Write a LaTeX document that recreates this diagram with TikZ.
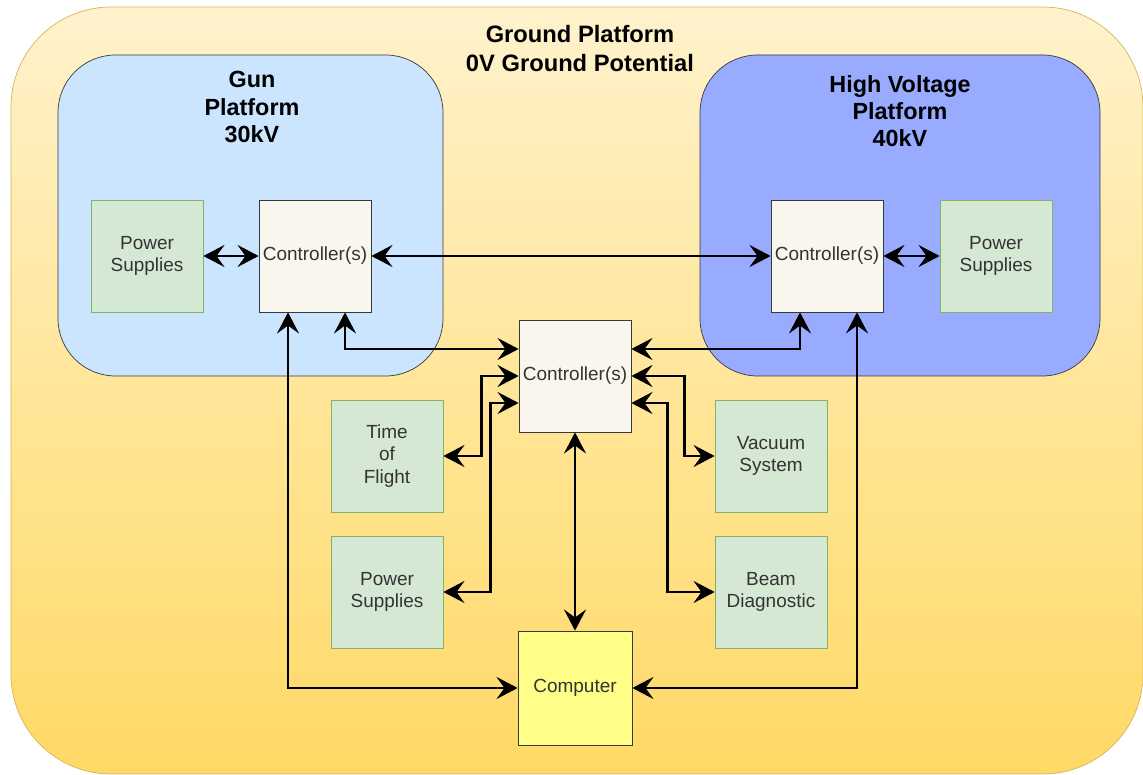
\documentclass[tikz,border=0pt]{standalone}
\usepackage{fontspec}
\setmainfont{Liberation Sans}
\usepackage{xcolor}
\usetikzlibrary{arrows.meta,positioning}
\definecolor{gndtop}{HTML}{FFF2CC}
\definecolor{gndbot}{HTML}{FFD966}
\definecolor{gndline}{HTML}{D6B656}
\definecolor{gunfill}{HTML}{CCE5FF}
\definecolor{hvfill}{HTML}{99ABFF}
\definecolor{darkline}{HTML}{36393D}
\definecolor{psfill}{HTML}{D5E8D4}
\definecolor{psline}{HTML}{82B366}
\definecolor{ctlfill}{HTML}{F9F7ED}
\definecolor{compfill}{HTML}{FFFF88}
\tikzset{
  box/.style={draw,align=center,text=black!80,inner sep=1pt,
              font=\fontsize{10.8}{13}\selectfont,
              minimum width=2.24cm,minimum height=2.24cm},
  psbox/.style={box,fill=psfill,draw=psline},
  ctlbox/.style={box,fill=ctlfill,draw=darkline},
  compbox/.style={box,fill=compfill,draw=darkline,
                  minimum width=2.28cm,minimum height=2.28cm},
  plat/.style={draw=darkline,rounded corners=1.15cm,minimum height=6.42cm},
  ptitle/.style={align=center,font=\bfseries\fontsize{13.3}{15.5}\selectfont},
  tip/.tip={Stealth[length=12pt,width=12.5pt,inset=4.5pt]},
  arr/.style={tip-tip,line width=1.6pt},
}

\begin{document}
\begin{tikzpicture}
\useasboundingbox (0,0) rectangle (22.86,15.5);

%% ---------- platforms ----------
\node[draw=gndline,rounded corners=2cm,top color=gndtop,bottom color=gndbot,
      minimum width=22.64cm,minimum height=15.34cm] (gnd) at (11.54,7.69) {};
\node[ptitle,font=\bfseries\fontsize{13.5}{16.4}\selectfont] (gndt) at (11.6,14.53)
  {Ground Platform\\0V Ground Potential};

\node[plat,fill=gunfill,minimum width=7.7cm] (gun) at (5.01,11.19) {};
\node[ptitle] (gunt) at (5.04,13.36) {Gun\\Platform\\30kV};

\node[plat,fill=hvfill,minimum width=8.0cm] (hv) at (18.0,11.19) {};
\node[ptitle] (hvt) at (18.0,13.28) {High Voltage\\Platform\\40kV};

%% ---------- boxes ----------
\node[psbox]  (lps)  at (2.94,10.38)  {Power\\Supplies};
\node[ctlbox] (lctl) at (6.3,10.38)   {Controller(s)};
\node[ctlbox] (rctl) at (16.54,10.38) {Controller(s)};
\node[psbox]  (rps)  at (19.92,10.38) {Power\\Supplies};

\node[ctlbox] (cctl) at (11.5,7.98) {Controller(s)};
\node[psbox]  (tof)  at (7.74,6.38)  {Time\\of\\Flight};
\node[psbox]  (vac)  at (15.42,6.38) {Vacuum\\System};
\node[psbox]  (cps)  at (7.74,3.66)  {Power\\Supplies};
\node[psbox]  (beam) at (15.42,3.66) {Beam\\Diagnostic};
\node[compbox] (comp) at (11.5,1.74) {Computer};

%% ---------- links ----------
\draw[arr] (lps) -- (lctl);
\draw[arr] (lctl) -- (rctl);
\draw[arr] (rctl) -- (rps);

\draw[arr] ([xshift=0.6cm]lctl.south) |- ([yshift=0.54cm]cctl.west);
\draw[arr] ([xshift=-0.54cm]rctl.south) |- ([yshift=0.54cm]cctl.east);

\draw[arr] (cctl.west) -- ++(-0.74,0) |- (tof.east);
\draw[arr] ([yshift=-0.54cm]cctl.west) -- ++(-0.56,0) |- (cps.east);
\draw[arr] (cctl.east) -- ++(1.06,0) |- (vac.west);
\draw[arr] ([yshift=-0.54cm]cctl.east) -- ++(0.72,0) |- (beam.west);

\draw[arr] (cctl) -- (comp);
\draw[arr] ([xshift=-0.54cm]lctl.south) |- (comp.west);
\draw[arr] ([xshift=0.6cm]rctl.south) |- (comp.east);
\end{tikzpicture}
\end{document}
